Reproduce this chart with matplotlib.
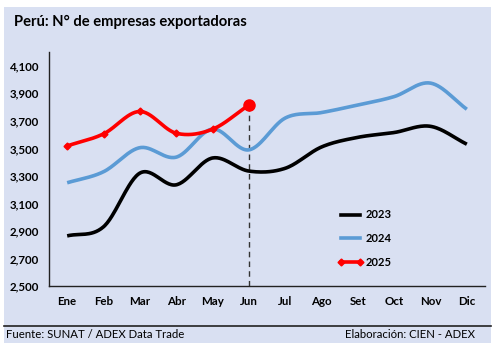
import numpy as np
import matplotlib
matplotlib.use("Agg")
import matplotlib.pyplot as plt
from matplotlib.patches import Rectangle
from matplotlib.lines import Line2D

plt.rcParams["font.family"] = ["Lato", "DejaVu Sans"]

meses = ["Ene", "Feb", "Mar", "Abr", "May", "Jun", "Jul", "Ago", "Set", "Oct", "Nov", "Dic"]
v2023 = [2864, 2930, 3320, 3235, 3430, 3335, 3355, 3510, 3580, 3615, 3660, 3530]
v2024 = [3250, 3330, 3505, 3436, 3640, 3489, 3720, 3760, 3815, 3876, 3974, 3784]
v2025 = [3518, 3605, 3768, 3610, 3639, 3816]

yticks = [2500, 2700, 2900, 3100, 3300, 3500, 3700, 3900, 4100]

BG = "#D9E0F2"


def suave(y, n=30):
    # curva suavizada tipo Excel (Catmull-Rom)
    y = np.asarray(y, dtype=float)
    x = np.arange(len(y), dtype=float)
    p = np.concatenate([[2 * y[0] - y[1]], y, [2 * y[-1] - y[-2]]])
    xs, ys = [], []
    for i in range(len(y) - 1):
        p0, p1, p2, p3 = p[i], p[i + 1], p[i + 2], p[i + 3]
        t = np.linspace(0, 1, n, endpoint=False)
        yy = 0.5 * ((2 * p1) + (-p0 + p2) * t + (2 * p0 - 5 * p1 + 4 * p2 - p3) * t ** 2
                    + (-p0 + 3 * p1 - 3 * p2 + p3) * t ** 3)
        xs.append(x[i] + t)
        ys.append(yy)
    xs.append([x[-1]])
    ys.append([y[-1]])
    return np.concatenate(xs), np.concatenate(ys)


fig = plt.figure(figsize=(4.94, 3.47), dpi=100)
fig.patch.set_facecolor("white")
fig.add_artist(Rectangle((4 / 494, 1 - 343 / 347), 487 / 494, 336 / 347,
                         transform=fig.transFigure, facecolor=BG, edgecolor="none", zorder=0))
fig.add_artist(Line2D([4 / 494, 491 / 494], [1 - 326 / 347] * 2, transform=fig.transFigure,
                      color="#222222", lw=1.2))

ax = fig.add_axes([49 / 494, 1 - 286 / 347, 436 / 494, 234 / 347])
ax.set_facecolor("none")

x, y = suave(v2023)
ax.plot(x, y, color="black", lw=2.6, solid_capstyle="butt", zorder=3)
x, y = suave(v2024)
ax.plot(x, y, color="#5B9BD5", lw=2.6, solid_capstyle="butt", zorder=3)
x, y = suave(v2025)
ax.plot(x, y, color="#FF0000", lw=2.6, zorder=4)
ax.plot(range(len(v2025) - 1), v2025[:-1], ls="none", marker="D", ms=3.5, color="#FF0000", zorder=5)
ax.plot([len(v2025) - 1], [v2025[-1]], ls="none", marker="o", ms=8, color="#FF0000", zorder=5)

ax.plot([len(v2025) - 1] * 2, [2500, v2025[-1]], color="#333333", lw=1, ls=(0, (4, 3)), zorder=2)

ax.set_xlim(-0.5, 11.5)
ax.set_ylim(2500, 4200)
ax.set_xticks(range(12))
ax.set_xticklabels(meses)
ax.set_yticks(yticks)
ax.set_yticklabels([f"{v:,}" for v in yticks])
ax.tick_params(length=0, labelsize=8.3, pad=7)
for lab in ax.get_xticklabels() + ax.get_yticklabels():
    lab.set_fontweight("bold")
ax.spines["top"].set_visible(False)
ax.spines["right"].set_visible(False)
for s in ("left", "bottom"):
    ax.spines[s].set_color("#222222")
    ax.spines[s].set_linewidth(1)

handles = [
    Line2D([], [], color="black", lw=2.6),
    Line2D([], [], color="#5B9BD5", lw=2.6),
    Line2D([], [], color="#FF0000", lw=2.6, marker="D", ms=3.5),
]
leg = ax.legend(handles, ["2023", "2024", "2025"], loc="upper left",
                bbox_to_anchor=(0.64, 0.37), frameon=False, handlelength=2.3,
                handletextpad=0.2, labelspacing=1.15, numpoints=2,
                prop={"weight": "bold", "size": 8})

fig.text(14 / 494, 1 - 22 / 347, "Perú: N° de empresas exportadoras", fontsize=10.6,
         fontweight="bold", va="center", ha="left")
fig.text(6 / 494, 1 - 334 / 347, "Fuente: SUNAT / ADEX Data Trade", fontsize=8.2,
         va="center", ha="left")
fig.text(475 / 494, 1 - 334 / 347, "Elaboración: CIEN - ADEX", fontsize=8.2,
         va="center", ha="right")

fig.savefig("out.png", dpi=100)
